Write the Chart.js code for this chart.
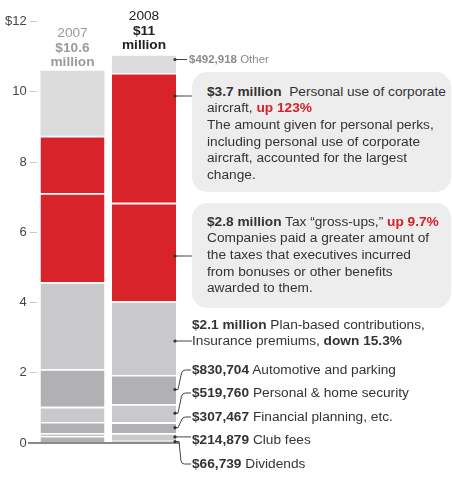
<!DOCTYPE html>
<html><head><meta charset="utf-8">
<script src="https://cdn.jsdelivr.net/npm/chart.js@4.4.1/dist/chart.umd.min.js"></script>
<style>
html,body{margin:0;padding:0;background:#fff;}
#wrap{position:relative;width:452px;height:480px;overflow:hidden;font-family:"Liberation Sans",Arial,sans-serif;color:#333;}
#c{position:absolute;left:0;top:0;}
.t{position:absolute;white-space:nowrap;font-size:13.7px;line-height:16.6px;}
.box{position:absolute;left:192px;width:259px;background:#ededed;border-radius:15px;}
.red{color:#d52027;font-weight:bold;}
.hd{position:absolute;width:90px;text-align:center;font-size:13.7px;line-height:14.5px;white-space:nowrap;}
</style></head>
<body>
<div id="wrap">
<canvas id="c" width="452" height="480"></canvas>
<div class="box" style="top:72px;height:120px"></div>
<div class="box" style="top:203px;height:105px"></div>
<div id="labels"></div>
</div>
<script>
// ---- data ----
const years = ['2007', '2008'];
const dividends = [0.20, 0.066739];
const clubFees = [0.08, 0.214879];
const financialPlanning = [0.32, 0.307467];
const homeSecurity = [0.43, 0.51976];
const automotive = [1.07, 0.830704];
const planBased = [2.48, 2.1];
const taxGrossUps = [2.54, 2.8];
const aircraft = [1.63, 3.7];
const other = [1.85, 0.492918];
const yTicks = [0, 2, 4, 6, 8, 10, 12];
const yTickLabels = ['0', '2', '4', '6', '8', '10', '$12'];
const headerYear = ['2007', '2008'];
const headerTotal = ['$10.6', '$11'];

const DARK = '#b1b1b4', LIGHT = '#c9c9cb', RED = '#d8232a', OTHER = '#dcdcdd';
const seriesList = [
  {label: 'Dividends', data: dividends, color: DARK},
  {label: 'Club fees', data: clubFees, color: LIGHT},
  {label: 'Financial planning', data: financialPlanning, color: DARK},
  {label: 'Personal & home security', data: homeSecurity, color: LIGHT},
  {label: 'Automotive and parking', data: automotive, color: DARK},
  {label: 'Plan-based contributions', data: planBased, color: LIGHT},
  {label: 'Tax gross-ups', data: taxGrossUps, color: RED},
  {label: 'Personal use of corporate aircraft', data: aircraft, color: RED},
  {label: 'Other', data: other, color: OTHER}
];

// label layout (anchor y of connector for each dataset, 2008 bar)
const anchors = [464, 440, 417, 393, 370, 341, 256, 96, 59.5];
const anchorEndX = [191, 191, 191, 191, 191, 192, 192, 192, 187];

const FONT = '"Liberation Sans", Arial, sans-serif';

const connectorPlugin = {
  id: 'connectors',
  afterDatasetsDraw(chart) {
    const ctx = chart.ctx;
    const y = chart.scales.y;
    const y0 = y.getPixelForValue(0);
    ctx.save();
    // baseline
    ctx.strokeStyle = '#8a8a8a';
    ctx.lineWidth = 2;
    ctx.beginPath();
    ctx.moveTo(28, y0);
    ctx.lineTo(chart.chartArea.right, y0);
    ctx.stroke();
    // connectors
    ctx.strokeStyle = '#444';
    ctx.fillStyle = '#333';
    ctx.lineWidth = 1;
    seriesList.forEach((s, i) => {
      const el = chart.getDatasetMeta(i).data[1];
      const top = Math.min(el.y, el.base), bot = Math.max(el.y, el.base);
      const dx = el.x + el.width / 2 - 1;
      const ya = anchors[i];
      let yd = (top + bot) / 2;
      const straight = ya >= top + 3 && ya <= bot - 3;
      if (straight) yd = ya;
      const ex = anchorEndX[i];
      ctx.beginPath();
      ctx.moveTo(dx, yd);
      if (straight || Math.abs(ya - yd) < 5) {
        ctx.lineTo(ex, yd);
      } else if (ya < yd) {
        // goes up, slanted
        ctx.lineTo(dx + 3, yd);
        ctx.lineTo(dx + 6.5, ya + 3);
        ctx.quadraticCurveTo(dx + 7.5, ya, dx + 10.5, ya);
        ctx.lineTo(ex, ya);
      } else {
        // goes down
        ctx.lineTo(dx + 4, yd);
        ctx.lineTo(dx + 6, ya - 3);
        ctx.quadraticCurveTo(dx + 6.5, ya, dx + 9.5, ya);
        ctx.lineTo(ex, ya);
      }
      ctx.stroke();
      ctx.beginPath();
      ctx.arc(dx, yd, 1.6, 0, Math.PI * 2);
      ctx.fill();
    });
    ctx.restore();
  }
};

const chart = new Chart(document.getElementById('c'), {
  type: 'bar',
  data: {
    labels: years,
    datasets: seriesList.map((s, i) => ({
      label: s.label,
      data: s.data,
      backgroundColor: s.color,
      borderColor: '#ffffff',
      borderWidth: i === seriesList.length - 1 ? 0 : {top: 1.6, bottom: 0, left: 0, right: 0},
      borderSkipped: false,
      barPercentage: 64 / 71.5,
      categoryPercentage: 1
    }))
  },
  options: {
    responsive: false,
    animation: false,
    devicePixelRatio: 1,
    layout: {padding: {top: 21.7, bottom: 37, left: 0, right: 272.25}},
    plugins: {legend: {display: false}, tooltip: {enabled: false}},
    scales: {
      x: {display: false, stacked: true},
      y: {
        stacked: true, min: 0, max: 12,
        afterBuildTicks: s => { s.ticks = yTicks.map(v => ({value: v})); },
        afterFit: s => { s.width = 36.75; },
        ticks: {callback: (v, i) => yTickLabels[i], color: '#444', font: {family: FONT, size: 13}, padding: 3},
        grid: {drawOnChartArea: false, drawTicks: true, tickLength: 7, color: '#c8c8c8', lineWidth: 1},
        border: {display: false}
      }
    }
  },
  plugins: [connectorPlugin]
});

// ---- text labels ----
const L = document.getElementById('labels');
function addLine(x, cy, html, extra) {
  const d = document.createElement('div');
  d.className = 't';
  d.style.left = x + 'px';
  d.style.top = (cy - 8.3) + 'px';
  if (extra) d.style.cssText += extra;
  d.innerHTML = html;
  L.appendChild(d);
}
// headers above bars
const xs = chart.scales.x;
const headerRows = [[33, 48, 62], [16, 31, 45]];
years.forEach((yr, i) => {
  const cx = xs.getPixelForValue(i);
  const col = i === 0 ? '#9a9a9a' : '#222';
  const rows = [headerYear[i], headerTotal[i], 'million'];
  rows.forEach((txt, r) => {
    const d = document.createElement('div');
    d.className = 'hd';
    d.style.left = (cx - 45) + 'px';
    d.style.top = (headerRows[i][r] - 7.25) + 'px';
    d.style.color = col;
    d.style.fontWeight = r === 0 ? 'normal' : 'bold';
    d.textContent = txt;
    L.appendChild(d);
  });
});
addLine(189, 59.5, '<b>$492,918</b> Other', 'font-size:11.5px;color:#8c8c8c;');
[
  '<b>$3.7 million</b>&nbsp; Personal use of corporate',
  'aircraft, <span class="red">up 123%</span>',
  'The amount given for personal perks,',
  'including personal use of corporate',
  'aircraft, accounted for the largest',
  'change.'
].forEach((h, k) => addLine(207, 92 + k * 16.6, h));
[
  '<b>$2.8 million</b> Tax “gross-ups,” <span class="red">up 9.7%</span>',
  'Companies paid a greater amount of',
  'the taxes that executives incurred',
  'from bonuses or other benefits',
  'awarded to them.'
].forEach((h, k) => addLine(207, 222 + k * 16.6, h));
addLine(192, 325.5, '<b>$2.1 million</b> Plan-based contributions,');
addLine(192, 341.5, 'Insurance premiums, <b>down 15.3%</b>');
addLine(192, 370, '<b>$830,704</b> Automotive and parking');
addLine(192, 393.5, '<b>$519,760</b> Personal &amp; home security');
addLine(192, 417, '<b>$307,467</b> Financial planning, etc.');
addLine(192, 440.5, '<b>$214,879</b> Club fees');
addLine(192, 464, '<b>$66,739</b> Dividends');
</script>
</body></html>
